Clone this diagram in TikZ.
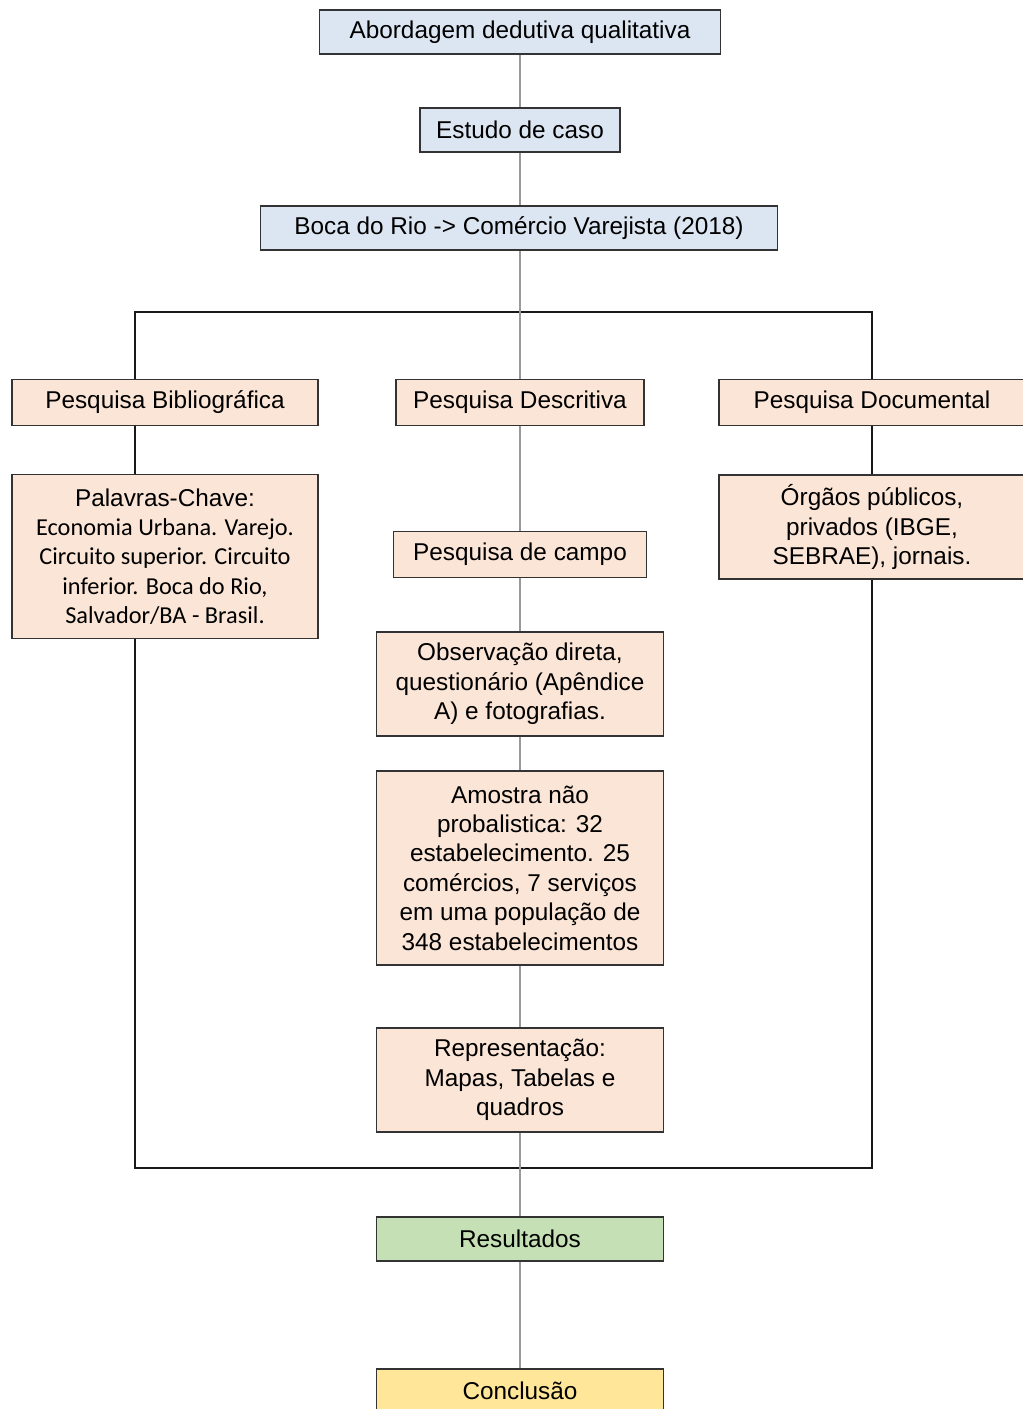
\documentclass[tikz,border=0pt]{standalone}
\usepackage{fontspec}
\setmainfont{Liberation Sans}
\newfontfamily\keyfont{Carlito}

\definecolor{stepblue}{RGB}{220,230,242}
\definecolor{steppeach}{RGB}{251,229,214}
\definecolor{stepgreen}{RGB}{197,224,180}
\definecolor{stepyellow}{RGB}{255,230,153}

\tikzset{
  box/.style={draw=black!80, line width=0.8pt, align=center, inner sep=0pt,
    font=\fontsize{17.3}{20.9}\selectfont},
  bluebox/.style={box, fill=stepblue, minimum height=1.1cm},
  peachbox/.style={box, fill=steppeach},
  link/.style={draw=black!40, line width=0.9pt},
  frame/.style={draw=black!90, line width=1.3pt},
}

\begin{document}
\begin{tikzpicture}[x=0.025cm, y=-0.025cm]
\useasboundingbox (0,0) rectangle (1022,1409);

% frame round the three kinds of research
\path (135,312) coordinate (frametl) (872,1168) coordinate (framebr);
\draw[frame] (frametl) rectangle (framebr);

\node[bluebox, minimum width=10.03cm] (abord) at (520,32) {Abordagem dedutiva qualitativa};
\node[bluebox, minimum width=5cm] (estudo) at (520,130) {Estudo de caso};
\node[bluebox, minimum width=12.93cm] (boca) at (519,228) {Boca do Rio -> Comércio Varejista (2018)};

\node[peachbox, minimum width=7.65cm, minimum height=1.13cm] (biblio) at (165,402.5) {Pesquisa Bibliográfica};
\node[peachbox, minimum width=6.2cm, minimum height=1.13cm] (descr) at (520,402.5) {Pesquisa Descritiva};
\node[peachbox, minimum width=7.65cm, minimum height=1.13cm] (docum) at (872,402.5) {Pesquisa Documental};

\node[peachbox, minimum width=7.65cm, minimum height=4.08cm] (chave) at (165,556.5)
  {Palavras-Chave:\\ \keyfont Economia Urbana. Varejo.\\ \keyfont Circuito superior. Circuito\\
   \keyfont inferior. Boca do Rio,\\ \keyfont Salvador/BA - Brasil.};
\node[peachbox, minimum width=7.65cm, minimum height=2.6cm] (orgaos) at (872,527)
  {Órgãos públicos,\\ privados (IBGE,\\ SEBRAE), jornais.};

\node[peachbox, minimum width=6.33cm, minimum height=1.13cm] (campo) at (520,554.5) {Pesquisa de campo};
\node[peachbox, minimum width=7.18cm, minimum height=2.6cm] (observ) at (520,684)
  {Observação direta,\\ questionário (Apêndice\\ A) e fotografias.};
\node[peachbox, minimum width=7.18cm, minimum height=4.85cm] (amostra) at (520,868)
  {Amostra não\\ probalistica: 32\\ estabelecimento. 25\\ comércios, 7 serviços\\
   em uma população de\\ 348 estabelecimentos};
\node[peachbox, minimum width=7.18cm, minimum height=2.6cm] (repres) at (520,1080)
  {Representação:\\ Mapas, Tabelas e\\ quadros};

\node[box, fill=stepgreen, minimum width=7.18cm, minimum height=1.1cm] (result) at (520,1239) {Resultados};
\node[box, fill=stepyellow, minimum width=7.18cm, minimum height=1.1cm] (concl) at (520,1391) {Conclusão};

\draw[link] (abord) -- (estudo);
\draw[link] (estudo) -- (estudo |- boca.north);
\draw[link] (boca.south -| descr) -- (descr);
\draw[link] (descr) -- (campo);
\draw[link] (campo) -- (observ);
\draw[link] (observ) -- (amostra);
\draw[link] (amostra) -- (repres);
\draw[link] (repres) -- (result);
\draw[link] (result) -- (concl);
\end{tikzpicture}
\end{document}
